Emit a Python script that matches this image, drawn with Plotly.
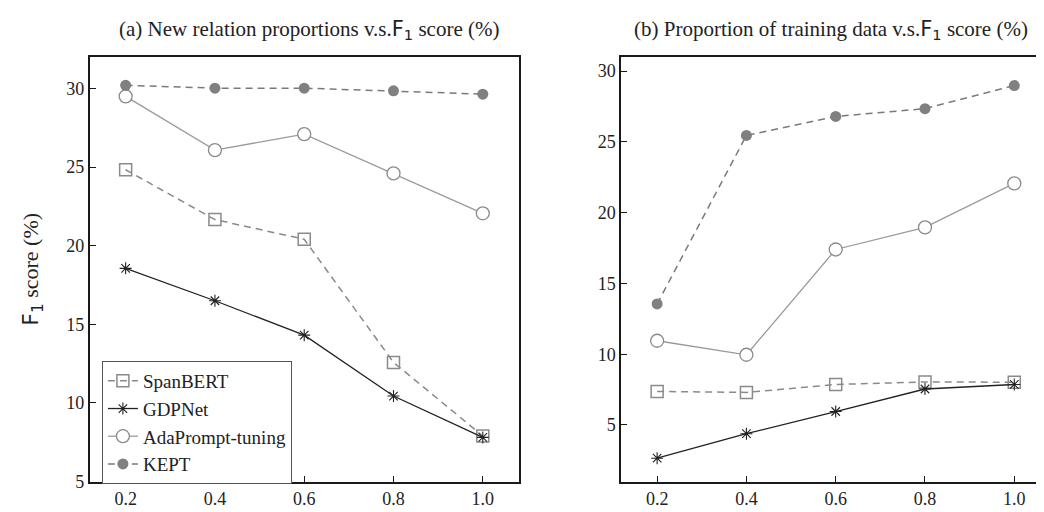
import plotly.graph_objects as go

x_vals = [0.2, 0.4, 0.6, 0.8, 1.0]
x_ticks = ["0.2", "0.4", "0.6", "0.8", "1.0"]

# Panel (a): new relation proportions
a_spanbert = [24.83, 21.66, 20.41, 12.58, 7.90]
a_gdpnet = [18.56, 16.50, 14.31, 10.44, 7.81]
a_adaprompt = [29.50, 26.08, 27.10, 24.60, 22.06]
a_kept = [30.20, 30.02, 30.02, 29.85, 29.64]

# Panel (b): proportion of training data
b_spanbert = [7.37, 7.30, 7.86, 8.04, 8.02]
b_gdpnet = [2.65, 4.38, 5.95, 7.54, 7.86]
b_adaprompt = [10.95, 9.96, 17.40, 18.96, 22.07]
b_kept = [13.55, 25.46, 26.80, 27.35, 28.98]

names = ["SpanBERT", "GDPNet", "AdaPrompt-tuning", "KEPT"]

SERIF = "Liberation Serif"

styles = {
    "SpanBERT": dict(line=dict(color="#8a8a8a", width=1.5, dash="7px,5px"),
                     marker=dict(symbol="square-open", size=12, color="#8a8a8a", line=dict(width=1.5, color="#8a8a8a"))),
    "GDPNet": dict(line=dict(color="#222222", width=1.3),
                   marker=dict(symbol="asterisk-open", size=10, color="#222222", line=dict(width=1.1, color="#222222"))),
    "AdaPrompt-tuning": dict(line=dict(color="#9a9a9a", width=1.3),
                             marker=dict(symbol="circle", size=13, color="white", line=dict(width=1.3, color="#8a8a8a"))),
    "KEPT": dict(line=dict(color="#7a7a7a", width=1.5, dash="7px,5px"),
                 marker=dict(symbol="circle", size=11, color="#808080", line=dict(width=0, color="#808080"))),
}

fig = go.Figure()

panel_a = [a_spanbert, a_gdpnet, a_adaprompt, a_kept]
panel_b = [b_spanbert, b_gdpnet, b_adaprompt, b_kept]

for name, ys in zip(names, panel_a):
    fig.add_trace(go.Scatter(x=x_vals, y=ys, mode="lines+markers", name=name,
                             xaxis="x", yaxis="y", showlegend=True, **styles[name]))
for name, ys in zip(names, panel_b):
    fig.add_trace(go.Scatter(x=x_vals, y=ys, mode="lines+markers", name=name,
                             xaxis="x2", yaxis="y2", showlegend=False, **styles[name]))

W, H = 1044, 512
xa = [82 / W, 511 / W]
xb = [614 / W, 1043 / W]
yd = [1 - 483 / H, 1 - 50 / H]

axis_common = dict(showline=True, mirror=True, linecolor="#1a1a1a", linewidth=2,
                   ticks="inside", ticklen=6, tickwidth=1, tickcolor="#1a1a1a",
                   showgrid=False, zeroline=False,
                   tickfont=dict(family=SERIF, size=18, color="#222222"))

F1 = '<span style="font-family:DejaVu Sans">F</span><sub><span style="font-family:DejaVu Sans">1</span></sub>'

fig.update_layout(
    width=W, height=H,
    margin=dict(l=0, r=0, t=0, b=0),
    plot_bgcolor="white", paper_bgcolor="white",
    font=dict(family=SERIF, color="#222222"),
    xaxis=dict(domain=xa, range=[0.12, 1.08], tickvals=x_vals, ticktext=x_ticks, anchor="y", **axis_common),
    yaxis=dict(domain=yd, range=[5, 32], tickvals=[5, 10, 15, 20, 25, 30], anchor="x", **axis_common),
    xaxis2=dict(domain=xb, range=[0.12, 1.08], tickvals=x_vals, ticktext=x_ticks, anchor="y2", **axis_common),
    yaxis2=dict(domain=yd, range=[1, 31], tickvals=[5, 10, 15, 20, 25, 30], anchor="x2", **axis_common),
    legend=dict(x=94 / W, y=1 - 360 / H, xanchor="left", yanchor="top",
                bgcolor="white", bordercolor="#555555", borderwidth=1,
                font=dict(family=SERIF, size=19, color="#222222"),
                tracegroupgap=0, itemwidth=30),
    annotations=[
        dict(text='(a) New relation proportions v.s.' + F1 + ' score (%)',
             x=(103 + 500) / 2 / W, y=1 - 22 / H, xref="paper", yref="paper",
             showarrow=False, xanchor="center", yanchor="middle",
             font=dict(family=SERIF, size=21, color="#222222")),
        dict(text='(b) Proportion of training data v.s.' + F1 + ' score (%)',
             x=(625 + 1022) / 2 / W, y=1 - 22 / H, xref="paper", yref="paper",
             showarrow=False, xanchor="center", yanchor="middle",
             font=dict(family=SERIF, size=21, color="#222222")),
        dict(text=F1 + ' score (%)',
             x=25 / W, y=1 - 266 / H, xref="paper", yref="paper", textangle=-90,
             showarrow=False, xanchor="center", yanchor="middle",
             font=dict(family=SERIF, size=22, color="#222222")),
    ],
)

fig.write_html("out.html")
